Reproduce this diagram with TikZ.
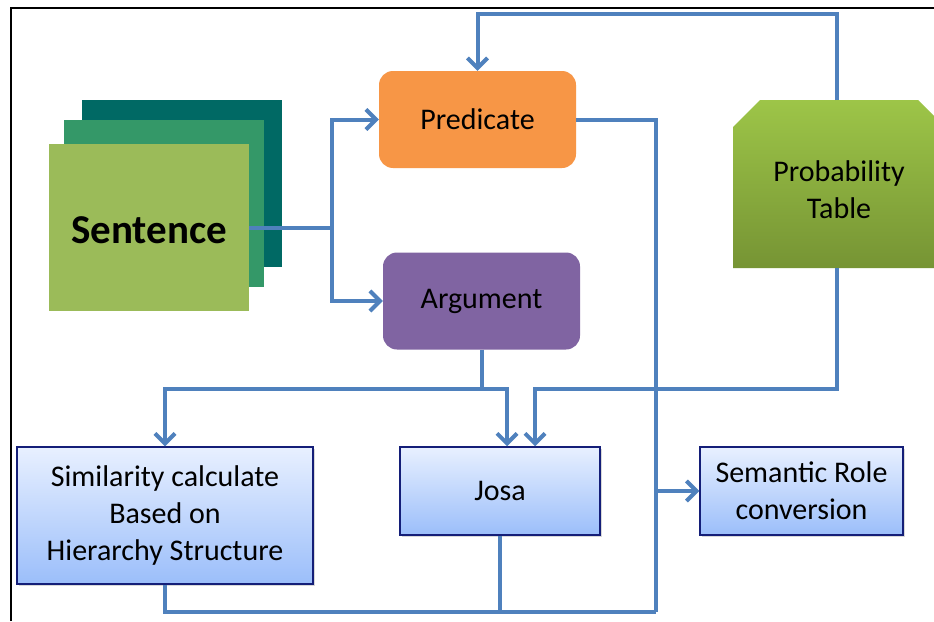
\documentclass[tikz,border=0pt]{standalone}
\usepackage{fontspec}
\setmainfont{Carlito}
\usetikzlibrary{arrows.meta,shadows}
\definecolor{lnblue}{RGB}{79,129,189}
\definecolor{navyb}{RGB}{20,30,120}
\definecolor{boxtop}{RGB}{232,240,255}
\definecolor{boxbot}{RGB}{155,190,250}
\definecolor{predc}{RGB}{247,150,70}
\definecolor{argc}{RGB}{128,100,162}
\definecolor{probtop}{RGB}{157,197,72}
\definecolor{probbot}{RGB}{118,148,52}
\definecolor{sentA}{RGB}{0,105,100}
\definecolor{sentB}{RGB}{52,152,104}
\definecolor{sentC}{RGB}{155,187,89}
\begin{document}
\begin{tikzpicture}[x=1pt,y=-1pt,
  conn/.style={draw=lnblue, line width=4pt},
  arr/.style={conn, -{Straight Barb[length=10pt,width=20pt,line width=4pt]}},
  txt/.style={font=\fontsize{30}{37}\selectfont, align=center, inner sep=0pt},
  lowbox/.style={txt, draw=navyb, line width=1.5pt, top color=boxtop, bottom color=boxbot,
     drop shadow={shadow xshift=2pt, shadow yshift=-2pt, opacity=0.3}},
  roundbox/.style={txt, rounded corners=14pt, minimum width=197pt, minimum height=97pt},
  sheet/.style={inner sep=0pt, minimum width=200pt, minimum height=167pt}
]
\useasboundingbox (0,0) rectangle (934,621);
\fill[white] (0,0) rectangle (934,621);
% frame
\draw[black, line width=2pt] (10.5,621) -- (10.5,7.5) -- (934,7.5);

% sentence stack
\node[sheet, fill=sentA] (sA) at (182,183.5) {};
\node[sheet, fill=sentB] (sB) at (164,203.5) {};
\node[sheet, fill=sentC] (sent) at (149,227.5) {};
\node[font=\bfseries\fontsize{41}{44}\selectfont] (senttxt) at (149,230) {Sentence};

% predicate / argument
\node[roundbox, fill=predc] (pred) at (477.5,119.5) {Predicate};
\node[roundbox, fill=argc] (arg) at (481.5,301) {Argument};

% probability table
\shade[top color=probtop, bottom color=probbot]
  (733,127) -- (760,100) -- (918,100) -- (945,127) -- (945,268) -- (733,268) -- cycle;
\node[txt, minimum width=207pt, minimum height=168pt] (prob) at (839,190) {Probability\\Table};

% lower boxes
\node[lowbox, minimum width=296pt, minimum height=137pt] (sim) at (165,515.5)
  {Similarity calculate\\Based on\\Hierarchy Structure};
\node[lowbox, minimum width=200pt, minimum height=88pt] (josa) at (500,491) {Josa};
\node[lowbox, minimum width=203pt, minimum height=88pt] (sem) at (801.5,491) {Semantic Role\\conversion};

% connectors
\coordinate (br) at (332,228);
\coordinate (lvl) at (0,389);
\coordinate (bot) at (656,612);
\coordinate (top) at (0,14);

\draw[conn] (sent.east |- br) -- (br);
\draw[arr] (br) |- (pred.west);
\draw[arr] (br) |- (arg.west);

\draw[arr] (837,100) -- (837,0 |- top) -| (pred.north);

\draw[conn] (pred.east) -| (bot);
\draw[conn] (sim.south) |- (bot);
\draw[conn] (josa.south) -- (josa.south |- bot);
\draw[arr] (sem.west -| bot) -- (sem.west);

\draw[arr] (arg.south) -- (arg.south |- lvl) -| (sim.north);
\draw[arr] (arg.south |- lvl) -| ([xshift=7pt]josa.north);
\draw[arr] (837,268) -- (837,0 |- lvl) -| ([xshift=35pt]josa.north);
\end{tikzpicture}
\end{document}
